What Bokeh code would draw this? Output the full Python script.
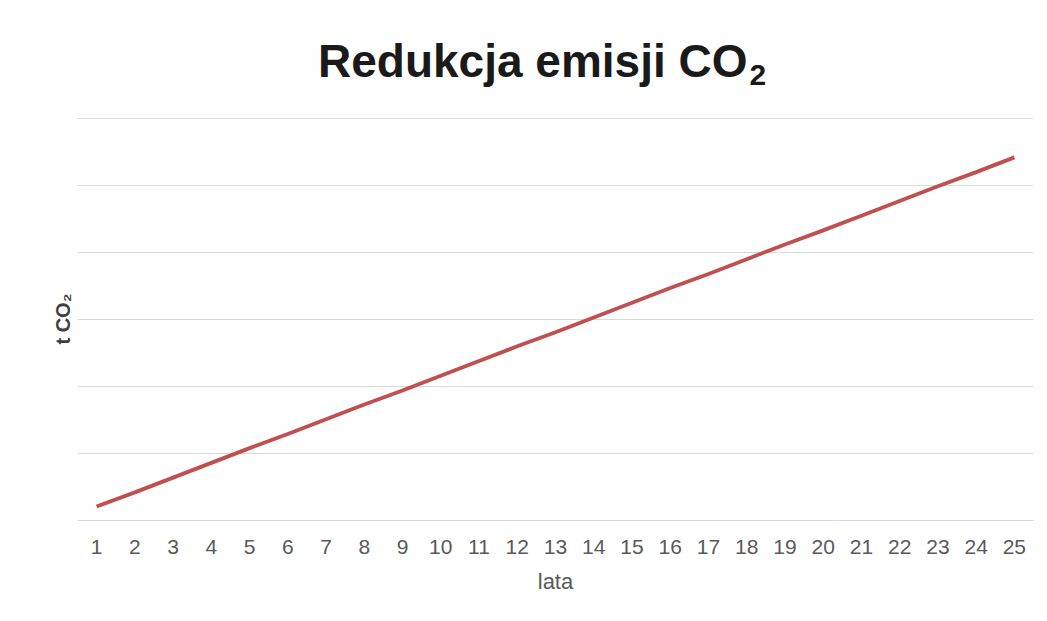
from bokeh.plotting import figure
from bokeh.models import FixedTicker, Range1d, ColumnDataSource, Div
from bokeh.layouts import column
from bokeh.embed import file_html
from bokeh.resources import INLINE

# Data (grid step = 10 t CO2, y labels hidden in original)
years = list(range(1, 26))
reduction = [2.1, 4.2, 6.4, 8.6, 10.8, 12.9, 15.1, 17.3, 19.4, 21.6, 23.8, 26.0, 28.1,
             30.3, 32.5, 34.7, 36.8, 39.0, 41.2, 43.3, 45.5, 47.7, 49.9, 52.0, 54.2]
y_ticks = [0, 10, 20, 30, 40, 50, 60]

title_main = "Redukcja emisji CO"
title_sub = "2"
x_label = "lata"
y_label = "t CO\u2082"

src = ColumnDataSource(dict(x=years, y=reduction))

title_html = (
    '<div style="position:absolute; left:318px; top:39px; white-space:nowrap; '
    'font-family:\'Liberation Sans\'; font-weight:bold; font-size:46px; line-height:44px; '
    'color:#1a1a1a;">' + title_main +
    '<span style="position:relative; top:8px; font-size:30px; margin-left:2px;">' +
    title_sub + '</span></div>'
)
title_div = Div(text=title_html, width=1047, height=107, margin=0,
                styles={"position": "relative"})

p = figure(width=1047, height=514, output_backend="svg", toolbar_location=None,
           x_range=Range1d(0.5, 25.5), y_range=Range1d(0, 60.15),
           min_border_left=77, min_border_right=14, min_border_top=10, min_border_bottom=101,
           margin=0)

p.line("x", "y", source=src, line_color="#c0504d", line_width=3.8)

p.outline_line_color = None
p.background_fill_color = "white"
p.border_fill_color = "white"

# x axis
p.xaxis.ticker = FixedTicker(ticks=years)
p.xaxis.axis_line_color = "#d9d9d9"
p.xaxis.axis_line_width = 1
p.xaxis.major_tick_line_color = None
p.xaxis.minor_tick_line_color = None
p.xaxis.major_label_text_font = "Liberation Sans"
p.xaxis.major_label_text_font_size = "21px"
p.xaxis.major_label_text_color = "#595959"
p.xaxis.major_label_standoff = 13
p.xaxis.axis_label = x_label
p.xaxis.axis_label_text_font = "Liberation Sans"
p.xaxis.axis_label_text_font_size = "22px"
p.xaxis.axis_label_text_font_style = "normal"
p.xaxis.axis_label_text_color = "#595959"
p.xaxis.axis_label_standoff = 12

# y axis (no tick labels in the original)
p.yaxis.ticker = FixedTicker(ticks=[])
p.yaxis.axis_line_color = None
p.yaxis.major_tick_line_color = None
p.yaxis.minor_tick_line_color = None
p.yaxis.major_label_standoff = 0
p.yaxis.axis_label = y_label
p.yaxis.axis_label_text_font = "Liberation Sans"
p.yaxis.axis_label_text_font_size = "20px"
p.yaxis.axis_label_text_font_style = "bold"
p.yaxis.axis_label_text_color = "#404040"
p.yaxis.axis_label_standoff = 4

p.xgrid.grid_line_color = None
p.ygrid.ticker = FixedTicker(ticks=y_ticks)
p.ygrid.grid_line_color = "#d9d9d9"
p.ygrid.grid_line_width = 1

layout = column(title_div, p, spacing=0, margin=0)
open("out.html", "w").write(file_html(layout, INLINE))
